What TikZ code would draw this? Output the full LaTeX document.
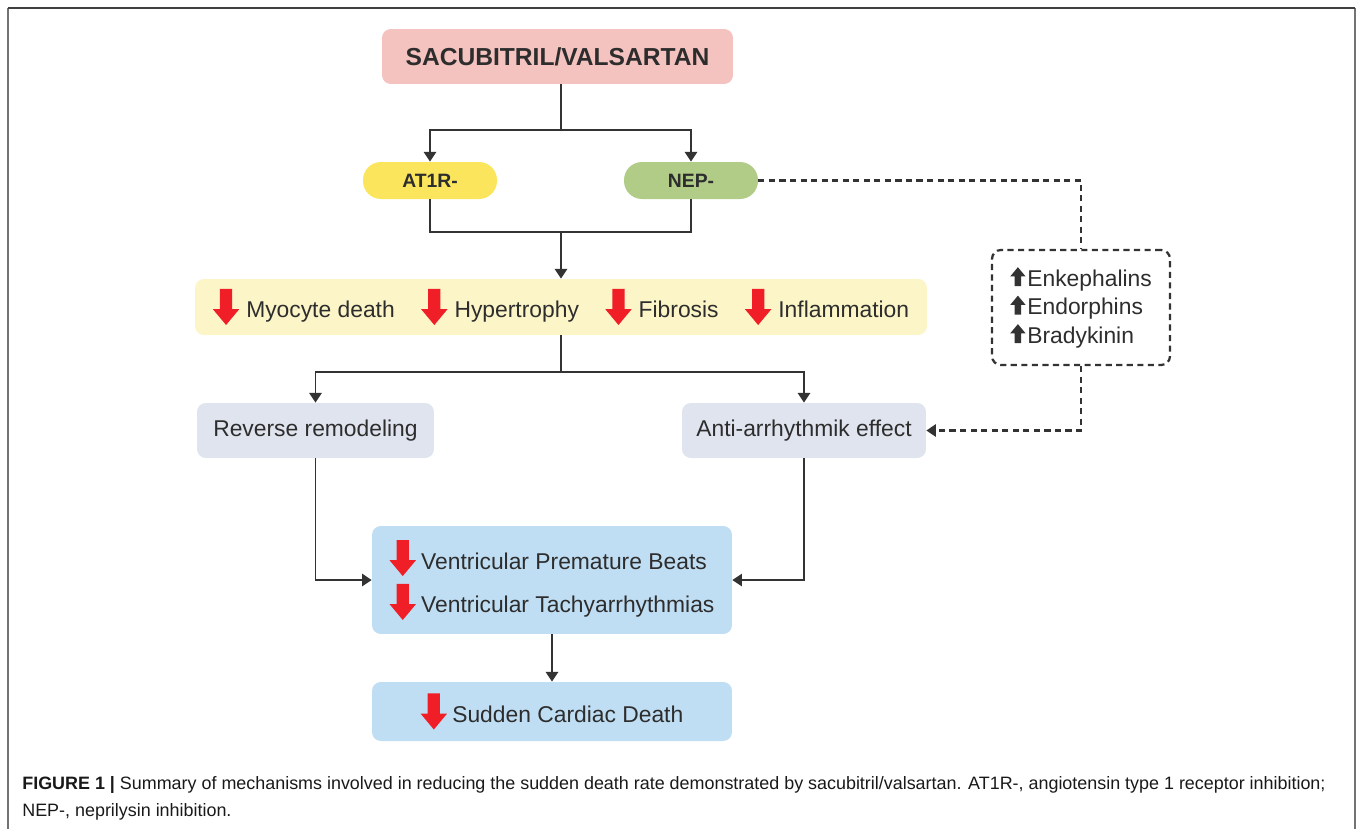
\documentclass[tikz,border=0pt]{standalone}
\usepackage{fontspec}
\setmainfont{Liberation Sans}
\usepackage{xcolor}
\usetikzlibrary{arrows.meta, positioning, calc}
\definecolor{titlepink}{RGB}{245,195,191}
\definecolor{atyellow}{RGB}{250,229,92}
\definecolor{nepgreen}{RGB}{176,204,135}
\definecolor{effyellow}{RGB}{252,245,199}
\definecolor{remgrey}{RGB}{224,228,238}
\definecolor{ventblue}{RGB}{192,222,243}
\definecolor{arrowred}{RGB}{240,30,38}
\definecolor{linegrey}{RGB}{51,51,51}
\definecolor{textgrey}{RGB}{45,45,45}

% red "decrease" arrow and black "increase" arrow
\newcommand{\dnarrow}{\tikz[baseline=0pt, sharp corners]\fill[arrowred] (-3.5pt,16.5pt) -- (3.5pt,16.5pt) -- (3.5pt,5pt) -- (7.5pt,5pt) -- (0pt,-4pt) -- (-7.5pt,5pt) -- (-3.5pt,5pt) -- cycle;}
\newcommand{\uparrowblk}{\tikz[baseline=0pt, sharp corners]\fill[linegrey] (-1.8pt,0pt) -- (1.8pt,0pt) -- (1.8pt,5.5pt) -- (4.4pt,5.5pt) -- (0pt,10.8pt) -- (-4.4pt,5.5pt) -- (-1.8pt,5.5pt) -- cycle;}

\begin{document}
\begin{tikzpicture}[x=0.02cm, y=-0.02cm,
    box/.style={rectangle, rounded corners=5pt, text=textgrey, align=center, inner sep=0pt},
    pill/.style={rectangle, rounded corners=3.6mm, minimum width=2.68cm, minimum height=0.74cm, text=textgrey, font=\fontsize{11}{13}\selectfont\bfseries},
    body/.style={font=\fontsize{13}{16}\selectfont},
    conn/.style={line width=1.1pt, draw=linegrey},
    arr/.style={conn, -{Triangle[width=7pt,length=5.5pt]}},
    dashconn/.style={line width=1.3pt, draw=linegrey, dash pattern=on 3.5pt off 2.5pt}]
    \useasboundingbox (0,0) rectangle (1357,829);

    % Frame
    \draw[line width=1.1pt, draw=black!55] (8,829) -- (8,8);
    \draw[line width=1.1pt, draw=black!55] (1355,829) -- (1355,8);
    \draw[line width=1.1pt, draw=black!75] (8,8) -- (1355,8);

    % Drug
    \node[box, fill=titlepink, minimum width=7.02cm, minimum height=1.1cm, font=\fontsize{14}{16}\selectfont\bfseries] (drug) at (557.5,56.5) {SACUBITRIL/VALSARTAN};

    % Inhibitions
    \node[pill, fill=atyellow] (at1r) at (430,180.5) {AT1R-};
    \node[pill, fill=nepgreen] (nep) at (691,180.5) {NEP-};

    % Cellular effects
    \node[box, body, fill=effyellow, minimum width=14.64cm, minimum height=1.12cm] (effects) at (561,307)
        {\dnarrow\hspace{4pt}Myocyte death\hspace{15pt}\dnarrow\hspace{4pt}Hypertrophy\hspace{15pt}\dnarrow\hspace{4pt}Fibrosis\hspace{15pt}\dnarrow\hspace{4pt}Inflammation};

    % Peptides raised by NEP inhibition
    \node[box, body, draw=linegrey, line width=1.3pt, dash pattern=on 3.5pt off 2.5pt, minimum width=3.56cm, minimum height=2.3cm, align=left, font=\fontsize{13}{16.2}\selectfont] (peptides) at (1081,307.5)
        {\uparrowblk\hspace{1pt}Enkephalins\\ \uparrowblk\hspace{1pt}Endorphins\\ \uparrowblk\hspace{1pt}Bradykinin};

    % Outcomes
    \node[box, body, fill=remgrey, minimum width=4.74cm, minimum height=1.1cm] (remodel) at (315.5,430.5) {Reverse remodeling};
    \node[box, body, fill=remgrey, minimum width=4.88cm, minimum height=1.1cm] (antiarr) at (804,430.5) {Anti-arrhythmik effect};
    \node[box, fill=ventblue, minimum width=7.2cm, minimum height=2.16cm, align=left, font=\fontsize{13}{25}\selectfont] (vent) at (552,580)
        {\dnarrow\hspace{3pt}Ventricular Premature Beats\\ \dnarrow\hspace{3pt}Ventricular Tachyarrhythmias};
    \node[box, body, fill=ventblue, minimum width=7.2cm, minimum height=1.18cm] (scd) at (552,711.5) {\dnarrow\hspace{3pt}Sudden Cardiac Death};

    % Connections
    \coordinate (split) at (561,130);
    \coordinate (merge) at (561,232);
    \coordinate (fork) at (561,372);
    \draw[conn] (split |- drug.south) -- (split);
    \draw[arr] (split) -| (at1r);
    \draw[arr] (split) -| (nep);
    \draw[conn] (at1r) |- (merge);
    \draw[conn] (nep) |- (merge);
    \draw[arr] (merge) -- (effects);
    \draw[conn] (effects) -- (fork);
    \draw[arr] (fork) -| (remodel);
    \draw[arr] (fork) -| (antiarr);
    \draw[arr] (remodel) |- (vent);
    \draw[arr] (antiarr) |- (vent);
    \draw[arr] (vent) -- (scd);

    % NEP side path
    \draw[dashconn] (nep) -| (peptides);
    \draw[dashconn, -{Triangle[width=7pt,length=5.5pt]}] (peptides) |- (antiarr);

    % Caption
    \node[anchor=base west, align=left, inner sep=0pt, text=black!90, font=\fontsize{10.2}{15.3}\selectfont] (caption) at (22,816)
        {{\bfseries FIGURE 1 |} Summary of mechanisms involved in reducing the sudden death rate demonstrated by sacubitril/valsartan. AT1R-, angiotensin type 1 receptor inhibition;\\NEP-, neprilysin inhibition.};
\end{tikzpicture}
\end{document}
